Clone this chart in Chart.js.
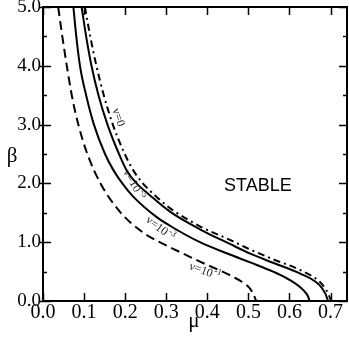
<!DOCTYPE html>
<html>
<head>
<meta charset="utf-8">
<script src="https://cdn.jsdelivr.net/npm/chart.js@4.4.1/dist/chart.umd.min.js"></script>
<style>
  html, body { margin: 0; padding: 0; background: #fff; }
  #wrap { width: 349px; height: 338px; }
</style>
</head>
<body>
<div id="wrap"><canvas id="myChart" width="349" height="338"></canvas></div>
<script>
// Stability boundaries beta(mu) for several viscosities
const nu0Mu   = [0.102, 0.115, 0.130, 0.148, 0.170, 0.199, 0.219, 0.243, 0.272, 0.309, 0.382, 0.455, 0.503, 0.560, 0.625, 0.673, 0.690, 0.702];
const nu0Beta = [5.00, 4.50, 4.00, 3.50, 3.00, 2.50, 2.23, 2.00, 1.80, 1.58, 1.27, 1.04, 0.88, 0.71, 0.53, 0.33, 0.18, 0.00];

const nu5Mu   = [0.094, 0.105, 0.118, 0.135, 0.157, 0.185, 0.203, 0.228, 0.260, 0.309, 0.382, 0.455, 0.503, 0.560, 0.625, 0.673, 0.687, 0.694];
const nu5Beta = [5.00, 4.50, 4.00, 3.50, 3.00, 2.50, 2.23, 2.00, 1.80, 1.52, 1.22, 0.97, 0.81, 0.65, 0.47, 0.27, 0.13, 0.00];

const nu3Mu   = [0.074, 0.081, 0.090, 0.105, 0.124, 0.151, 0.171, 0.193, 0.219, 0.276, 0.309, 0.382, 0.455, 0.503, 0.560, 0.600, 0.633, 0.645, 0.649];
const nu3Beta = [5.00, 4.50, 4.00, 3.50, 3.00, 2.50, 2.23, 2.00, 1.78, 1.43, 1.28, 1.00, 0.79, 0.66, 0.50, 0.36, 0.19, 0.08, 0.00];

const nu1Mu   = [0.037, 0.047, 0.058, 0.070, 0.086, 0.108, 0.140, 0.187, 0.244, 0.276, 0.313, 0.349, 0.382, 0.430, 0.463, 0.490, 0.503, 0.512, 0.519];
const nu1Beta = [5.00, 4.50, 4.00, 3.50, 3.00, 2.50, 2.00, 1.52, 1.16, 1.03, 0.90, 0.78, 0.67, 0.52, 0.41, 0.30, 0.22, 0.12, 0.00];

// axis ticks
const xTicks = [0.0, 0.1, 0.2, 0.3, 0.4, 0.5, 0.6, 0.7];
const yTicks = [0.0, 1.0, 2.0, 3.0, 4.0, 5.0];
const yMinorTicks = [0.5, 1.5, 2.5, 3.5, 4.5];

function toPoints(mu, beta) {
  return mu.map((m, i) => ({ x: m, y: beta[i] }));
}

// curve labels: [main, superscript, mu, beta, angle in degrees]
const curveLabels = [
  ['\u03bd=0', '', 0.183, 3.12, 72],
  ['\u03bd=10', '-5', 0.221, 1.98, 60],
  ['\u03bd=10', '-3', 0.285, 1.23, 37],
  ['\u03bd=10', '-1', 0.394, 0.50, 20]
];

const serif = '"Liberation Serif", "Times New Roman", serif';

const decorations = {
  id: 'decorations',
  afterDraw(chart) {
    const c = chart.ctx;
    const a = chart.chartArea;
    const xs = chart.scales.x, ys = chart.scales.y;
    c.save();
    c.strokeStyle = '#000';

    // ticks pointing inward on all four sides
    c.lineWidth = 1.5;
    c.beginPath();
    xTicks.forEach(v => {
      const px = Math.round(xs.getPixelForValue(v)) + 0.5;
      c.moveTo(px, a.bottom); c.lineTo(px, a.bottom - 8);
      c.moveTo(px, a.top); c.lineTo(px, a.top + 8);
    });
    yTicks.forEach(v => {
      const py = Math.round(ys.getPixelForValue(v)) + 0.5;
      c.moveTo(a.left - 3, py); c.lineTo(a.left + 8, py);
      c.moveTo(a.right, py); c.lineTo(a.right - 8, py);
    });
    yMinorTicks.forEach(v => {
      const py = Math.round(ys.getPixelForValue(v)) + 0.5;
      c.moveTo(a.left, py); c.lineTo(a.left + 4, py);
      c.moveTo(a.right, py); c.lineTo(a.right - 4, py);
    });
    c.stroke();

    // frame
    c.lineWidth = 2;
    c.strokeRect(a.left, a.top, a.right - a.left, a.bottom - a.top);

    // curve labels
    c.fillStyle = '#222';
    curveLabels.forEach(([txt, sup, m, b, ang]) => {
      c.save();
      c.translate(xs.getPixelForValue(m), ys.getPixelForValue(b));
      c.rotate(ang * Math.PI / 180);
      c.font = '12px ' + serif;
      const w1 = c.measureText(txt).width;
      c.font = '9px ' + serif;
      const w2 = sup ? c.measureText(sup).width + 1 : 0;
      const x0 = -(w1 + w2) / 2;
      c.textBaseline = 'middle';
      c.textAlign = 'left';
      c.font = '12px ' + serif;
      c.fillText(txt, x0, 0);
      if (sup) {
        c.font = '9px ' + serif;
        c.fillText(sup, x0 + w1 + 1, -4);
      }
      c.restore();
    });

    // region label
    c.fillStyle = '#000';
    c.font = '18px "Liberation Sans", Arial, sans-serif';
    c.textAlign = 'center';
    c.textBaseline = 'middle';
    c.fillText('STABLE', xs.getPixelForValue(0.523), ys.getPixelForValue(1.96));

    // axis titles (upright)
    c.font = '21px ' + serif;
    c.fillText('\u03b2', 12, 156);
    c.textBaseline = 'alphabetic';
    c.fillText('\u03bc', 194, 327);
    c.restore();
  }
};

const ctx = document.getElementById('myChart').getContext('2d');

new Chart(ctx, {
  type: 'line',
  data: {
    datasets: [
      { label: 'nu=0', data: toPoints(nu0Mu, nu0Beta), borderDash: [7, 4, 2, 4] },
      { label: 'nu=1e-5', data: toPoints(nu5Mu, nu5Beta) },
      { label: 'nu=1e-3', data: toPoints(nu3Mu, nu3Beta) },
      { label: 'nu=1e-1', data: toPoints(nu1Mu, nu1Beta), borderDash: [9, 5] }
    ].map(d => Object.assign({
      borderColor: '#000',
      borderWidth: 2,
      pointRadius: 0,
      fill: false,
      cubicInterpolationMode: 'monotone'
    }, d))
  },
  options: {
    responsive: false,
    animation: false,
    layout: { padding: { top: 7, right: 2, left: 0, bottom: 0 } },
    plugins: { legend: { display: false }, tooltip: { enabled: false } },
    scales: {
      x: {
        type: 'linear',
        min: 0,
        max: 0.74,
        border: { display: false },
        grid: { display: false, drawTicks: false },
        ticks: {
          stepSize: 0.1,
          includeBounds: false,
          padding: 0,
          color: '#000',
          font: { family: serif, size: 20 },
          maxRotation: 0,
          autoSkip: false,
          callback: v => v.toFixed(1)
        },
        afterFit(s) { s.height = 37; s.paddingLeft = 0; s.paddingRight = 0; }
      },
      y: {
        type: 'linear',
        min: 0,
        max: 5,
        border: { display: false },
        grid: { display: false, drawTicks: false },
        ticks: {
          stepSize: 1,
          padding: 2,
          color: '#000',
          font: { family: serif, size: 19 },
          autoSkip: false,
          callback: v => v.toFixed(1)
        },
        afterFit(s) { s.width = 43; s.paddingTop = 0; s.paddingBottom = 0; }
      }
    }
  },
  plugins: [decorations]
});
</script>
</body>
</html>
